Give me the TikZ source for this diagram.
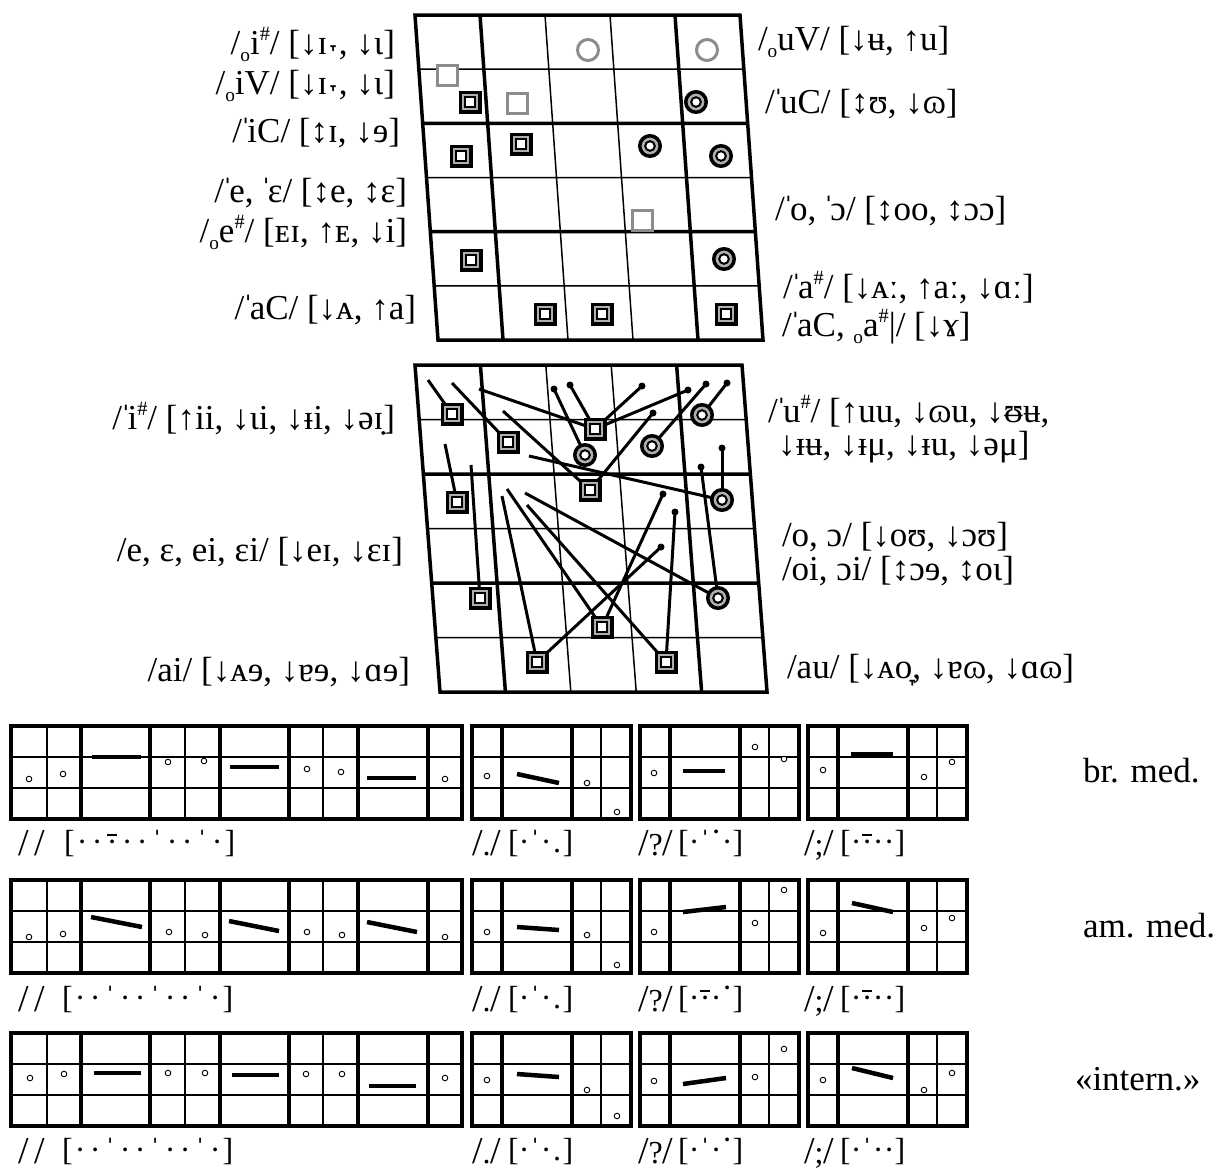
\documentclass[tikz,border=0pt]{standalone}
\usepackage{fontspec}
\setmainfont{Liberation Serif}
\usetikzlibrary{backgrounds}
\definecolor{mgray}{RGB}{140,140,140}
\definecolor{rgray}{RGB}{175,175,175}
\newcommand\lowring{\raisebox{-0.2em}{\scalebox{0.55}{o}}}
\newcommand\hsh{\raisebox{0.4em}{\scalebox{0.58}{\#}}}
\newcommand\sm{\kern-0.06em ˈ\kern-0.12em}
\newcommand\Dt{\makebox[15pt]{·}}
\newcommand\Tk{\makebox[15pt]{ˈ}}
\newcommand\Bd{\makebox[15pt]{\ooalign{\hfil·\hfil\cr\hfil\raisebox{0.5em}{\rule{0.3em}{0.07em}}\hfil\cr}}}
\newcommand\Rd{\makebox[15pt]{\raisebox{0.3em}{·}}}
\newcommand\Ld{\makebox[15pt]{.}}
\newcommand\dt{\makebox[11pt]{·}}
\newcommand\tk{\makebox[11pt]{ˈ}}
\newcommand\bd{\makebox[11pt]{\ooalign{\hfil·\hfil\cr\hfil\raisebox{0.5em}{\rule{0.3em}{0.07em}}\hfil\cr}}}
\newcommand\rd{\makebox[11pt]{\raisebox{0.3em}{·}}}
\newcommand\ld{\makebox[11pt]{.}}
\newcommand\Slsh{{\fontsize{38}{40}\selectfont /}}
\begin{document}
\begin{tikzpicture}[x=1pt,y=-1pt,
  every node/.style={inner sep=0pt,outer sep=0pt},
  lab/.style={font=\fontsize{35}{40}\selectfont},
  ilab/.style={font=\fontsize{32}{36}\selectfont},
  thk/.style={line width=3.5pt},
  thn/.style={line width=1.5pt},
  conn/.style={line width=3pt},
  dsq/.style={rectangle,draw=black,line width=3.5pt,fill=rgray,minimum size=19.5pt,
    path picture={\draw[line width=2pt,fill=white] ([shift={(-5pt,-5pt)}]path picture bounding box.center) rectangle ([shift={(5pt,5pt)}]path picture bounding box.center);}},
  dci/.style={circle,draw=black,line width=3.5pt,fill=rgray,minimum size=20.5pt,
    path picture={\draw[line width=2pt,fill=white] (path picture bounding box.center) circle (4.8pt);}},
  gsq/.style={rectangle,draw=mgray,line width=3pt,fill=white,minimum size=20pt},
  gci/.style={circle,draw=mgray,line width=3pt,minimum size=21pt},
  edot/.style={circle,fill=black,minimum size=7pt},
  idot/.style={line width=0.9pt,fill=white},
  bar/.style={line width=4.5pt}]
\useasboundingbox (0,0) rectangle (1225,1171);

% ---------- top chart ----------
\begin{scope}[shift={(415pt,-15pt)},x={(65pt,0pt)},y={(3.833pt,-54.17pt)}]
  \draw[thn] (0,1)--(5,1) (0,3)--(5,3) (0,5)--(5,5) (2,0)--(2,6) (3,0)--(3,6);
  \draw[thk] (0,2)--(5,2) (0,4)--(5,4) (1,0)--(1,6) (4,0)--(4,6);
  \draw[thk,line join=miter] (0,0)--(5,0)--(5,6)--(0,6)--cycle;
\end{scope}
\node[gci] (a1) at (588,50) {};
\node[gci] (a2) at (707,50) {};
\node[gsq] (a3) at (447,75) {};
\node[dsq] (a4) at (470,102) {};
\node[gsq] (a5) at (517,103) {};
\node[dci] (a6) at (696,102) {};
\node[dsq] (a7) at (521,144) {};
\node[dci] (a8) at (650,146) {};
\node[dsq] (a9) at (461,156) {};
\node[dci] (a10) at (721,156) {};
\node[gsq] (a11) at (642,220) {};
\node[dsq] (a12) at (471,260) {};
\node[dci] (a13) at (724,259) {};
\node[dsq] (a14) at (545,314) {};
\node[dsq] (a15) at (602,314) {};
\node[dsq] (a16) at (726,314) {};

\node[lab,anchor=base east] (tl1) at (395,54) {/\lowring i\hsh/ [↓ɪ˕, ↓ɩ]};
\node[lab,anchor=base east] (tl2) at (395,94) {/\lowring iV/ [↓ɪ˕, ↓ɩ]};
\node[lab,anchor=base east] (tl3) at (400,142) {/\sm iC/ [↕ɪ, ↓ɘ]};
\node[lab,anchor=base east] (tl4) at (407,202) {/\sm e, \sm ɛ/ [↕e, ↕ɛ]};
\node[lab,anchor=base east] (tl5) at (407,242) {/\lowring e\hsh/ [ᴇɪ, ↑ᴇ, ↓i]};
\node[lab,anchor=base east] (tl6) at (416,319) {/\sm aC/ [↓ᴀ, ↑a]};
\node[lab,anchor=base west] (tr1) at (758,50) {/\lowring uV/ [↓ʉ, ↑u]};
\node[lab,anchor=base west] (tr2) at (765,113) {/\sm uC/ [↕ʊ, ↓ɷ]};
\node[lab,anchor=base west] (tr3) at (775,220) {/\sm o, \sm ɔ/ [↕oo, ↕ɔɔ]};
\node[lab,anchor=base west] (tr4) at (783,298) {/\sm a\hsh/ [↓ᴀː, ↑aː, ↓ɑː]};
\node[lab,anchor=base west] (tr5) at (782,336) {/\sm aC, \lowring a\hsh|/ [↓ɤ]};

% ---------- middle chart ----------
\node[dsq] (m1) at (452,414) {};
\node[dsq] (m2) at (508,442) {};
\node[dsq] (m3) at (595,429) {};
\node[dci] (m4) at (585,455) {};
\node[dci] (m5) at (702,415) {};
\node[dci] (m6) at (652,446) {};
\node[dsq] (m7) at (590,490) {};
\node[dci] (m8) at (722,500) {};
\node[dsq] (m9) at (457,502) {};
\node[dsq] (m10) at (480,598) {};
\node[dsq] (m11) at (602,627) {};
\node[dci] (m12) at (718,598) {};
\node[dsq] (m13) at (537,662) {};
\node[dsq] (m14) at (666,662) {};
\coordinate (p1) at (428,380);
\coordinate (p2) at (452,383);
\coordinate (p3) at (479,389);
\coordinate (p10) at (503,411);
\coordinate (p12) at (529,456);
\coordinate (p14) at (445,444);
\coordinate (p15) at (471,465);
\coordinate (p17) at (502,496);
\coordinate (p18) at (507,489);
\coordinate (p19) at (527,505);
\coordinate (p20) at (525,493);
\node[edot] (d4) at (570,385) {};
\node[edot] (d5) at (642,386) {};
\node[edot] (d6) at (688,390) {};
\node[edot] (d7) at (554,389) {};
\node[edot] (d8) at (706,384) {};
\node[edot] (d9) at (727,383) {};
\node[edot] (d11) at (653,413) {};
\node[edot] (d13) at (722,448) {};
\node[edot] (d16) at (701,467) {};
\node[edot] (d21) at (661,547) {};
\node[edot] (d22) at (663,494) {};
\node[edot] (d23) at (675,512) {};
\begin{pgfonlayer}{background}
\begin{scope}[shift={(415pt,-365pt)},x={(65.4pt,0pt)},y={(4.17pt,-54.5pt)}]
  \draw[thn] (0,1)--(5,1) (0,3)--(5,3) (0,5)--(5,5) (2,0)--(2,6) (3,0)--(3,6);
  \draw[thk] (0,2)--(5,2) (0,4)--(5,4) (1,0)--(1,6) (4,0)--(4,6);
  \draw[thk,line join=miter] (0,0)--(5,0)--(5,6)--(0,6)--cycle;
\end{scope}
\draw[conn] (m1.center)--(p1);
\draw[conn] (m2.center)--(p2);
\draw[conn] (p3)--(m3.center);
\draw[conn] (m3.center)--(d4.center);
\draw[conn] (m3.center)--(d5.center);
\draw[conn] (m3.center)--(d6.center);
\draw[conn] (m4.center)--(d7.center);
\draw[conn] (m6.center)--(d8.center);
\draw[conn] (m5.center)--(d9.center);
\draw[conn] (p10)--(m7.center);
\draw[conn] (m7.center)--(d11.center);
\draw[conn] (p12)--(m8.center);
\draw[conn] (m8.center)--(d13.center);
\draw[conn] (m9.center)--(p14);
\draw[conn] (m10.center)--(p15);
\draw[conn] (m12.center)--(d16.center);
\draw[conn] (p17)--(m13.center);
\draw[conn] (p18)--(m11.center);
\draw[conn] (p19)--(m14.center);
\draw[conn] (p20)--(m12.center);
\draw[conn] (m13.center)--(d21.center);
\draw[conn] (m11.center)--(d22.center);
\draw[conn] (m14.center)--(d23.center);
\end{pgfonlayer}

\node[lab,anchor=base east] (ml1) at (395,429) {/\sm i\hsh/ [↑ii, ↓ɩi, ↓ᵻi, ↓əɪ̣]};
\node[lab,anchor=base east] (ml2) at (403,561) {/e, ɛ, ei, ɛi/ [↓eɪ, ↓ɛɪ]};
\node[lab,anchor=base east] (ml3) at (410,681) {/ai/ [↓ᴀɘ, ↓ɐɘ, ↓ɑɘ]};
\node[lab,anchor=base west] (mr1) at (768,422) {/\sm u\hsh/ [↑uu, ↓ɷu, ↓ᵿʉ,};
\node[lab,anchor=base west] (mr2) at (778,455) {↓ᵻʉ, ↓ᵻμ, ↓ᵻu, ↓əμ]};
\node[lab,anchor=base west] (mr3) at (782,546) {/o, ɔ/ [↓oʊ, ↓ɔʊ]};
\node[lab,anchor=base west] (mr4) at (782,580) {/oi, ɔi/ [↕ɔɘ, ↕oɩ]};
\node[lab,anchor=base west] (mr5) at (787,678) {/au/ [↓ᴀo̞, ↓ɐɷ, ↓ɑɷ]};

% ---------- intonation charts ----------
\foreach \T in {726,880,1033}{
  \draw[line width=2pt] (11,\T+31)--(462,\T+31) (11,\T+62)--(462,\T+62);
  \foreach \x in {47,185,323} \draw[thn] (\x,\T)--(\x,\T+93);
  \foreach \x in {81,150,220,289,358,428} \draw[thk] (\x,\T)--(\x,\T+93);
  \draw[line width=4.5pt] (11,\T) rectangle (462,\T+93);
  \foreach \a in {472,640,808}{
    \draw[line width=2pt] (\a,\T+31)--(\a+159,\T+31) (\a,\T+62)--(\a+159,\T+62);
    \draw[thk] (\a+30,\T)--(\a+30,\T+93) (\a+100,\T)--(\a+100,\T+93);
    \draw[thn] (\a+129,\T)--(\a+129,\T+93);
    \draw[line width=4.5pt] (\a,\T) rectangle (\a+159,\T+93);
  }
}
% row 1
\foreach \p in {(29,779),(63,774),(168,762),(204,761),(307,769),(341,772),(445,779),
  (487,776),(587,783),(617,812),(654,773),(755,747),(784,759),(823,770),(924,777),(952,762)}
  \draw[idot] \p circle (2.8pt);
\draw[bar] (92,757)--(141,757);
\draw[bar] (230,767)--(279,767);
\draw[bar] (367,778)--(416,778);
\draw[bar] (517,774)--(559,783);
\draw[bar] (683,771)--(725,771);
\draw[bar] (851,754)--(893,754);
% row 2
\foreach \p in {(29,937),(63,934),(169,932),(205,935),(307,932),(342,935),(445,937),
  (487,932),(587,935),(617,965),(654,932),(755,923),(784,890),(823,933),(924,928),(952,918)}
  \draw[idot] \p circle (2.8pt);
\draw[bar] (91,917)--(142,927);
\draw[bar] (229,921)--(279,931);
\draw[bar] (367,922)--(417,932);
\draw[bar] (517,927)--(559,930);
\draw[bar] (683,912)--(726,907);
\draw[bar] (852,903)--(893,912);
% row 3
\foreach \p in {(30,1078),(64,1074),(168,1073),(205,1073),(306,1074),(342,1074),(445,1078),
  (487,1080),(587,1090),(617,1116),(654,1081),(755,1077),(784,1049),(823,1080),(924,1090),(952,1073)}
  \draw[idot] \p circle (2.8pt);
\draw[bar] (94,1073)--(141,1073);
\draw[bar] (232,1075)--(279,1075);
\draw[bar] (369,1086)--(416,1086);
\draw[bar] (517,1074)--(559,1077);
\draw[bar] (683,1084)--(726,1078);
\draw[bar] (852,1068)--(893,1078);

\node[lab,anchor=base west] (s1) at (1083,782) {br. med.};
\node[lab,anchor=base west] (s2) at (1083,937) {am. med.};
\node[lab,anchor=base west] (s3) at (1075,1090) {«intern.»};

% notation below charts
\node[ilab,anchor=base west] (n1a) at (18,855) {\Slsh\hspace{6pt}\Slsh};
\node[ilab,anchor=base west] (n1b) at (64,852) {[\Dt\Dt\Bd\Dt\Dt\Tk\Dt\Dt\Tk\Dt]};
\node[ilab,anchor=base west] (n1c) at (472,855) {\Slsh.\Slsh};
\node[ilab,anchor=base west] (n1d) at (508,852) {[\dt\tk\dt\ld]};
\node[ilab,anchor=base west] (n1e) at (638,855) {\Slsh?\Slsh};
\node[ilab,anchor=base west] (n1f) at (678,852) {[\dt\tk\rd\dt]};
\node[ilab,anchor=base west] (n1g) at (804,855) {\Slsh;\Slsh};
\node[ilab,anchor=base west] (n1h) at (840,852) {[\dt\bd\dt\dt]};
\node[ilab,anchor=base west] (n2a) at (18,1011) {\Slsh\hspace{6pt}\Slsh};
\node[ilab,anchor=base west] (n2b) at (62,1008) {[\Dt\Dt\Tk\Dt\Dt\Tk\Dt\Dt\Tk\Dt]};
\node[ilab,anchor=base west] (n2c) at (472,1011) {\Slsh.\Slsh};
\node[ilab,anchor=base west] (n2d) at (508,1008) {[\dt\tk\dt\ld]};
\node[ilab,anchor=base west] (n2e) at (638,1011) {\Slsh?\Slsh};
\node[ilab,anchor=base west] (n2f) at (678,1008) {[\dt\bd\dt\rd]};
\node[ilab,anchor=base west] (n2g) at (804,1011) {\Slsh;\Slsh};
\node[ilab,anchor=base west] (n2h) at (840,1008) {[\dt\bd\dt\dt]};
\node[ilab,anchor=base west] (n3a) at (18,1163) {\Slsh\hspace{6pt}\Slsh};
\node[ilab,anchor=base west] (n3b) at (62,1160) {[\Dt\Dt\Tk\Dt\Dt\Tk\Dt\Dt\Tk\Dt]};
\node[ilab,anchor=base west] (n3c) at (472,1163) {\Slsh.\Slsh};
\node[ilab,anchor=base west] (n3d) at (508,1160) {[\dt\tk\dt\ld]};
\node[ilab,anchor=base west] (n3e) at (638,1163) {\Slsh?\Slsh};
\node[ilab,anchor=base west] (n3f) at (678,1160) {[\dt\tk\dt\rd]};
\node[ilab,anchor=base west] (n3g) at (804,1163) {\Slsh;\Slsh};
\node[ilab,anchor=base west] (n3h) at (840,1160) {[\dt\tk\dt\dt]};
\end{tikzpicture}
\end{document}
